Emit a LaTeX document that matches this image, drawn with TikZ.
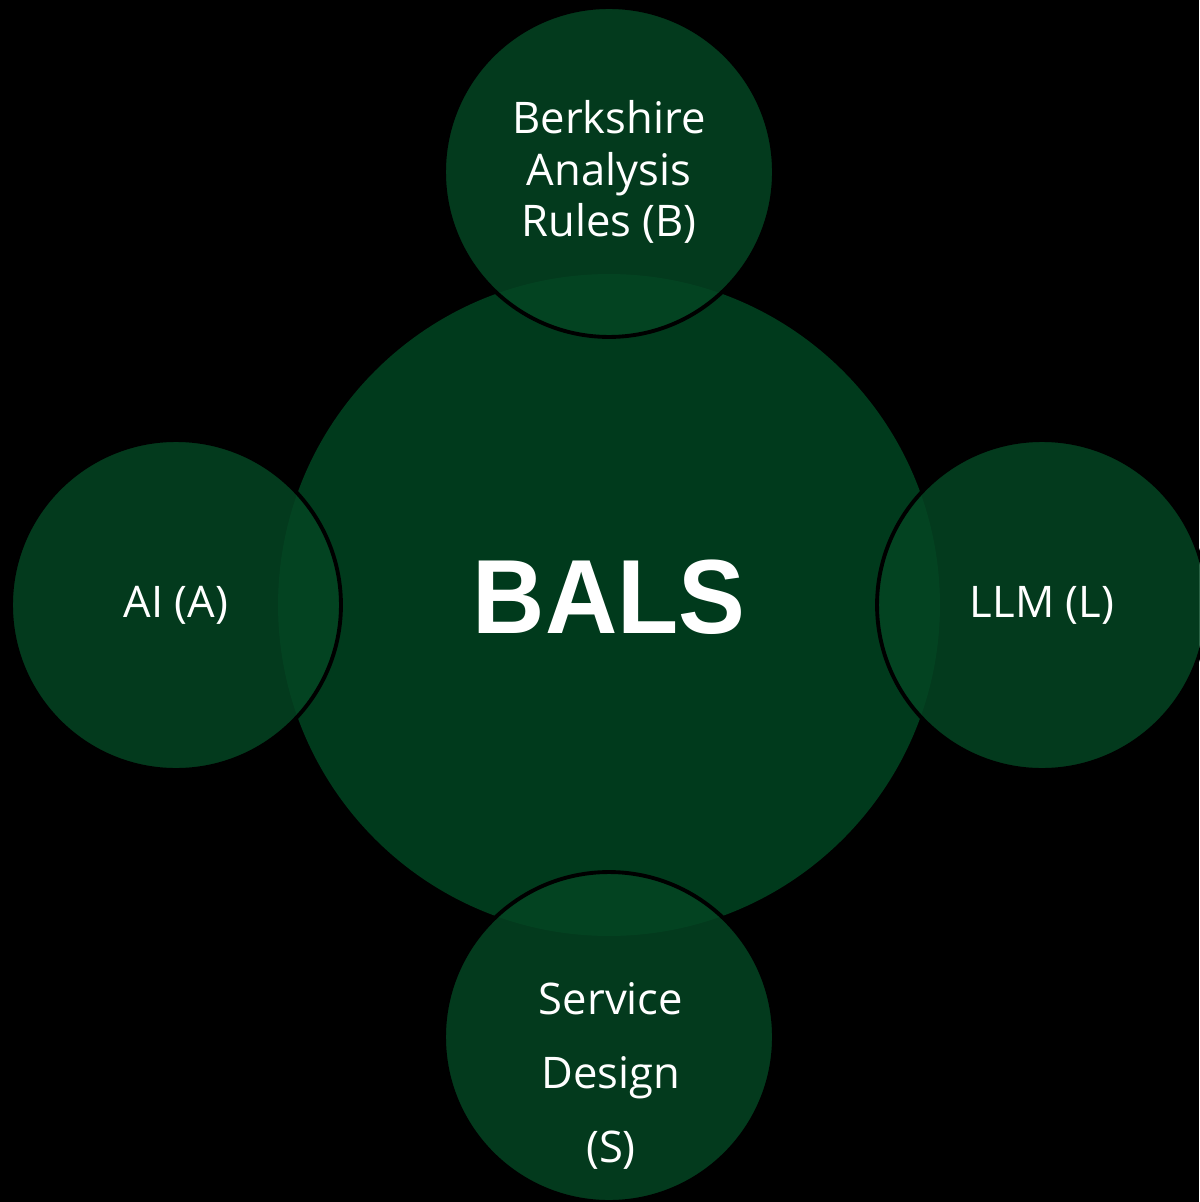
\documentclass[tikz,border=0pt]{standalone}
\usepackage{fontspec}
\setmainfont{Open Sans}
\newfontfamily\balsfont{Liberation Sans}
\definecolor{balsgreen}{RGB}{0,58,28}
\definecolor{partgreen}{RGB}{4,70,35}
\tikzset{
	core/.style = {circle, fill=balsgreen, inner sep=0pt, minimum size=13.24cm},
	part/.style = {circle, fill=partgreen, fill opacity=0.83, draw=black, line width=2.2pt, inner sep=0pt, minimum size=6.6cm},
	parttext/.style = {text=white, align=center, font=\fontsize{24.8}{29.5}\selectfont}
}

\begin{document}
\begin{tikzpicture}[x=0.02cm, y=-0.02cm]
	\fill[black] (0,0) rectangle (1199,1202);
	\useasboundingbox (0,0) rectangle (1199,1202);
	% centre
	\node[core] (bals) at (609,605) {};
	\node[text=white, font=\balsfont\bfseries\fontsize{60}{60}\selectfont, xscale=0.95] (balstext) at (609,597) {BALS};
	% the four parts
	\node[part] (berkshire) at (609,172) {};
	\node[part] (ai) at (176,605) {};
	\node[part] (llm) at (1042,605) {};
	\node[part] (service) at (609,1037) {};
	\node[parttext] (berkshiretext) at (berkshire.center) {Berkshire\\Analysis\\Rules (B)};
	\node[parttext] (aitext) at (ai.center) {AI (A)};
	\node[parttext] (llmtext) at (llm.center) {LLM (L)};
	\node[parttext, font=\fontsize{24.8}{42}\selectfont] (servicetext) at (611,1076) {Service\\Design\\(S)};
\end{tikzpicture}
\end{document}
